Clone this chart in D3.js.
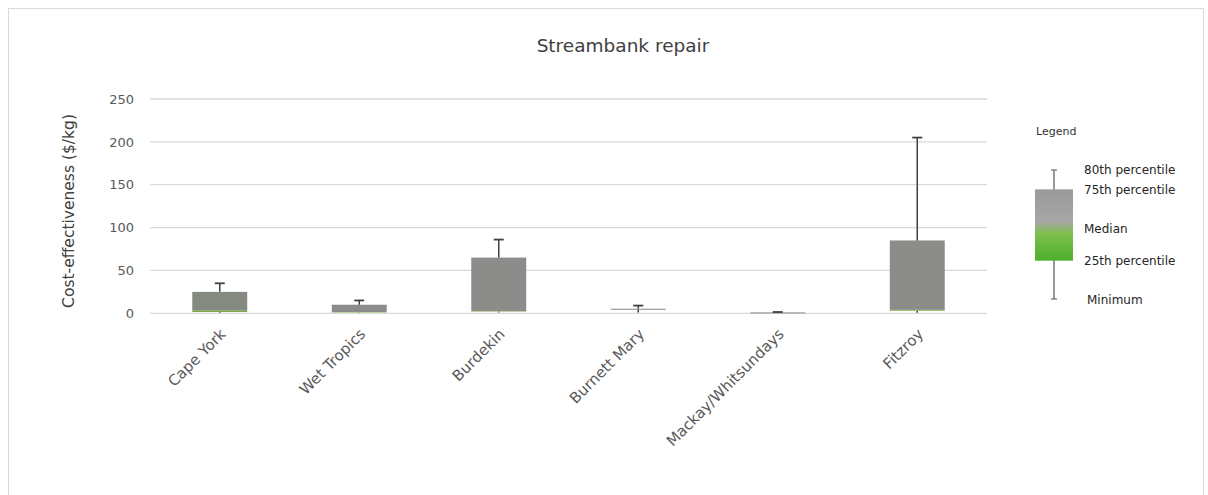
<!DOCTYPE html>
<html><head><meta charset="utf-8">
<script src="https://cdn.jsdelivr.net/npm/d3@7"></script>
<style>body{margin:0;background:#fff;} svg{display:block;font-family:"DejaVu Sans",sans-serif;}</style>
</head><body>
<svg id="c" width="1208" height="495"></svg>
<script>
const categories = ["Cape York","Wet Tropics","Burdekin","Burnett Mary","Mackay/Whitsundays","Fitzroy"];
const minimum = [0.5, 0.5, 1, 1, 0.8, 0.5];
const p25     = [1.5, 1.0, 2.0, 4.8, 1.0, 3.0];
const median  = [3.0, 1.5, 2.5, 5.0, 1.0, 4.0];
const p75     = [25, 10, 65, 5.3, 1.0, 85];
const p80     = [35, 15, 86, 9, 1.5, 205];
const yTicks  = [0, 50, 100, 150, 200, 250];
const legendLabels = ["80th percentile","75th percentile","Median","25th percentile","Minimum"];

const svg = d3.select("#c");
svg.append("rect").attr("x",8.5).attr("y",8.5).attr("width",1195).attr("height",500)
  .attr("fill","#fff").attr("stroke","#d9d9d9");

svg.append("text").attr("x",623).attr("y",52).attr("text-anchor","middle")
  .attr("font-size",18.5).attr("fill","#404040").text("Streambank repair");

const x = d3.scaleBand().domain(categories).range([150,987]).paddingInner(0.606).paddingOuter(0.303);
const y = d3.scaleLinear().domain([0,250]).range([313.3,99]);

svg.append("g").selectAll("line").data(yTicks).join("line")
  .attr("x1",150).attr("x2",987).attr("y1",d=>y(d)).attr("y2",d=>y(d))
  .attr("stroke","#d9d9d9").attr("stroke-width",1.3);

const yAxis = d3.axisLeft(y).tickValues(yTicks).tickSize(0).tickPadding(0);
const ya = svg.append("g").attr("transform","translate(134,0)").call(yAxis);
ya.select(".domain").remove();
ya.selectAll("text").attr("font-size",13).attr("fill","#595959").attr("font-family","'DejaVu Sans',sans-serif");

svg.append("text").attr("transform","translate(74,211) rotate(-90)").attr("text-anchor","middle")
  .attr("font-size",15.5).attr("fill","#404040").text("Cost-effectiveness ($/kg)");

const idx = d3.range(categories.length);
const bw = x.bandwidth();
const cx = i => x(categories[i]) + bw/2;
svg.selectAll("line.lw").data(idx).join("line").attr("class","lw")
  .attr("x1",cx).attr("x2",cx)
  .attr("y1",i=>y(minimum[i])).attr("y2",i=>y(p25[i]))
  .attr("stroke","#404040").attr("stroke-width",1.5);
svg.selectAll("rect.g").data(idx).join("rect").attr("class","g")
  .attr("x",i=>x(categories[i])).attr("width",bw)
  .attr("y",i=>y(median[i])).attr("height",i=>Math.max(0,y(p25[i])-y(median[i])))
  .attr("fill","#7cad3a");
svg.selectAll("rect.b").data(idx).join("rect").attr("class","b")
  .attr("x",i=>x(categories[i])).attr("width",bw)
  .attr("y",i=>y(p75[i])).attr("height",i=>Math.max(1,y(median[i])-y(p75[i])))
  .attr("fill",(d,i)=> i===0 ? "#848a82" : "#8c8c8a");
svg.selectAll("line.uw").data(idx).join("line").attr("class","uw")
  .attr("x1",cx).attr("x2",cx)
  .attr("y1",i=>y(p75[i])).attr("y2",i=>y(p80[i]))
  .attr("stroke","#404040").attr("stroke-width",1.5);
svg.selectAll("line.cap").data(idx).join("line").attr("class","cap")
  .attr("x1",i=>cx(i)-5).attr("x2",i=>cx(i)+5)
  .attr("y1",i=>y(p80[i])).attr("y2",i=>y(p80[i]))
  .attr("stroke","#404040").attr("stroke-width",1.8);

svg.selectAll("text.xl").data(categories).join("text").attr("class","xl")
  .attr("text-anchor","end").attr("font-size",15).attr("fill","#595959")
  .attr("transform",d=>`translate(${x(d)+bw/2+7},${335}) rotate(-45)`)
  .text(d=>d);

// legend
svg.append("text").attr("x",1036).attr("y",135).attr("font-size",11).attr("fill","#333").text("Legend");
const ly = d3.scaleLinear().domain([0,80]).range([299,170]);
const lg = svg.append("g");
const grad = svg.append("defs").append("linearGradient").attr("id","lgGrad")
  .attr("x1",0).attr("x2",0).attr("y1",0).attr("y2",1);
grad.append("stop").attr("offset","0%").attr("stop-color","#9a9a9a");
grad.append("stop").attr("offset","45%").attr("stop-color","#a6a6a6");
grad.append("stop").attr("offset","62%").attr("stop-color","#7fbf4f");
grad.append("stop").attr("offset","100%").attr("stop-color","#4caf2a");
lg.append("line").attr("x1",1054).attr("x2",1054).attr("y1",ly(80)).attr("y2",ly(0)).attr("stroke","#555").attr("stroke-width",1.2);
lg.append("line").attr("x1",1051).attr("x2",1057).attr("y1",ly(80)).attr("y2",ly(80)).attr("stroke","#555");
lg.append("line").attr("x1",1051).attr("x2",1057).attr("y1",ly(0)).attr("y2",ly(0)).attr("stroke","#555");
lg.append("rect").attr("x",1035).attr("width",38).attr("y",ly(68)).attr("height",ly(25)-ly(68)+2).attr("fill","url(#lgGrad)");
const labelY = [170, 190, 229, 261, 300];
lg.selectAll("text.ll").data(legendLabels).join("text").attr("class","ll")
  .attr("x",(d,i)=> i===4 ? 1087 : 1084).attr("y",(d,i)=>labelY[i]+4)
  .attr("font-size",12).attr("fill","#262626").text(d=>d);
</script>
</body></html>
